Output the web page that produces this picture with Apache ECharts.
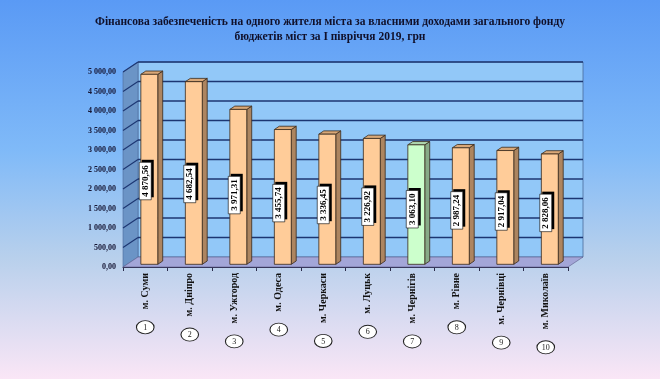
<!DOCTYPE html>
<html>
<head>
<meta charset="utf-8">
<script src="https://cdn.jsdelivr.net/npm/echarts@6/dist/echarts.min.js"></script>
<style>html,body{margin:0;padding:0;}#c{width:660px;height:379px;}</style>
</head>
<body>
<div id="c"></div>
<script>
var titleLines = ['Фінансова забезпеченість на одного жителя міста за власними доходами загального фонду', 'бюджетів міст за І півріччя 2019, грн'];
var categories = ['м. Суми', 'м. Дніпро', 'м. Ужгород', 'м. Одеса', 'м. Черкаси', 'м. Луцьк', 'м. Чернігів', 'м. Рівне', 'м. Чернівці', 'м. Миколаїв'];
var values = [4870.56, 4682.54, 3971.31, 3455.74, 3336.45, 3226.92, 3063.10, 2987.24, 2917.04, 2828.06];
var ranks = [1, 2, 3, 4, 5, 6, 7, 8, 9, 10];
var highlightIndex = 6;
var yMin = 0, yMax = 5000, yStep = 500;

var SERIF = "'Liberation Serif','DejaVu Serif',serif";
var DX = 15, DY = -10;      // wall depth
var F0 = 0.27, F1 = 0.6;    // bar depth span
var GRID_C = '#1c3672';

function fmt(v) {
  var s = v.toFixed(2).split('.');
  return s[0].replace(/\B(?=(\d{3})+(?!\d))/g, ' ') + ',' + s[1];
}
var mctx = document.createElement('canvas').getContext('2d');
function tw(text, font) { mctx.font = font; return mctx.measureText(text).width; }

var chart = echarts.init(document.getElementById('c'), null, {renderer: 'canvas'});

function renderWalls(params, api) {
  var cs = params.coordSys;
  var x0 = cs.x, x1 = cs.x + cs.width;
  var yb = api.coord([0, yMin])[1];
  var yt = api.coord([0, yMax])[1];
  var ch = [];
  ch.push({type: 'rect', shape: {x: x0 + DX, y: yt + DY, width: x1 - x0, height: yb - yt},
    style: {fill: '#92c8f8', stroke: '#4a6a9a', lineWidth: 0.8}});
  ch.push({type: 'polygon', shape: {points: [[x0, yt], [x0 + DX, yt + DY], [x0 + DX, yb + DY], [x0, yb]]},
    style: {fill: '#6b94c6', stroke: '#4a6a9a', lineWidth: 0.6}});
  for (var t = yMin + yStep; t <= yMax; t += yStep) {
    var y = api.coord([0, t])[1];
    ch.push({type: 'line', shape: {x1: x0 + DX, y1: y + DY, x2: x1 + DX, y2: y + DY}, style: {stroke: GRID_C, lineWidth: 1.4}});
    ch.push({type: 'line', shape: {x1: x0, y1: y, x2: x0 + DX, y2: y + DY}, style: {stroke: GRID_C, lineWidth: 1.1}});
  }
  ch.push({type: 'polygon', shape: {points: [[x0, yb], [x1, yb], [x1 + DX, yb + DY], [x0 + DX, yb + DY]]},
    style: {fill: '#a3a6d8', stroke: '#5a5a8a', lineWidth: 0.6}});
  return {type: 'group', children: ch};
}

function renderBar(params, api) {
  var i = api.value(0), v = api.value(1);
  var c0 = api.coord([i, yMin]), c1 = api.coord([i, v]);
  var w = api.size([1, 0])[0] * 0.38;
  var hl = i === highlightIndex;
  var front = hl ? '#ccffcc' : '#ffcc99';
  var top = hl ? '#aed6ae' : '#d9a878';
  var side = hl ? '#87aa87' : '#ad8560';
  var fx = c0[0] - w / 2 + F0 * DX;
  var fyb = c0[1] + F0 * DY, fyt = c1[1] + F0 * DY;
  var ddx = (F1 - F0) * DX, ddy = (F1 - F0) * DY;
  var st = {stroke: '#3a2a1a', lineWidth: 0.8};
  var ch = [];
  ch.push({type: 'polygon', shape: {points: [[fx + w, fyt], [fx + w + ddx, fyt + ddy], [fx + w + ddx, fyb + ddy], [fx + w, fyb]]},
    style: Object.assign({fill: side}, st)});
  ch.push({type: 'polygon', shape: {points: [[fx, fyt], [fx + ddx, fyt + ddy], [fx + w + ddx, fyt + ddy], [fx + w, fyt]]},
    style: Object.assign({fill: top}, st)});
  ch.push({type: 'rect', shape: {x: fx, y: fyt, width: w, height: fyb - fyt}, style: Object.assign({fill: front}, st)});
  var txt = fmt(v);
  var font = 'bold 9px ' + SERIF;
  var lh = tw(txt, font) + 6, lw = 12;
  var ly = api.coord([i, v * 0.4 + 256])[1];
  var lx = c0[0];
  ch.push({type: 'rect', shape: {x: lx - lw / 2 + 2.5, y: ly - lh / 2 - 2.5, width: lw, height: lh}, style: {fill: '#000'}});
  ch.push({type: 'rect', shape: {x: lx - lw / 2, y: ly - lh / 2, width: lw, height: lh}, style: {fill: '#fff', stroke: '#000', lineWidth: 0.6}});
  ch.push({type: 'text', x: lx, y: ly, rotation: Math.PI / 2,
    style: {text: txt, font: font, fill: '#000', align: 'center', verticalAlign: 'middle'}});
  return {type: 'group', children: ch};
}

function renderRank(params, api) {
  var i = api.value(0);
  var c0 = api.coord([i, yMin]);
  var labelLen = tw(categories[i], 'bold 10px ' + SERIF);
  var cy = c0[1] + 6 + labelLen + 18;
  return {type: 'group', children: [
    {type: 'circle', x: c0[0], y: cy, scaleX: 1.1, scaleY: 0.82, shape: {cx: 0, cy: 0, r: 8},
      style: {fill: '#fff', stroke: '#222', lineWidth: 1}},
    {type: 'text', x: c0[0], y: cy + 0.5, style: {text: String(ranks[i]), font: '8px ' + SERIF, fill: '#222', align: 'center', verticalAlign: 'middle'}}
  ]};
}

var option = {
  backgroundColor: new echarts.graphic.LinearGradient(0, 0, 0, 1, [
    {offset: 0, color: '#5a9af5'}, {offset: 0.4, color: '#80baf8'},
    {offset: 0.68, color: '#b8d0ec'}, {offset: 1, color: '#fae6f6'}]),
  animation: false,
  title: {
    text: titleLines.join('\n'), left: 'center', top: 10,
    textStyle: {fontFamily: SERIF, fontWeight: 'bold', fontSize: 11.5, lineHeight: 15, color: '#10102a'}
  },
  grid: {left: 123, right: 92, top: 72, bottom: 112},
  xAxis: {
    type: 'category', data: categories,
    axisLine: {show: true, lineStyle: {color: '#2a2a4a', width: 1}},
    axisTick: {show: true, length: 4, lineStyle: {color: '#2a2a4a'}},
    axisLabel: {rotate: 90, margin: 6, fontFamily: SERIF, fontWeight: 'bold', fontSize: 10, color: '#111'}
  },
  yAxis: {
    type: 'value', min: yMin, max: yMax, interval: yStep,
    axisLine: {show: false}, axisTick: {show: false}, splitLine: {show: false},
    axisLabel: {margin: 7, fontFamily: SERIF, fontWeight: 'bold', fontSize: 8, color: '#141432', formatter: function (v) { return fmt(v); }}
  },
  series: [
    {type: 'custom', renderItem: renderWalls, data: [[0, 0]], silent: true, z: 1},
    {type: 'custom', renderItem: renderBar, data: values.map(function (v, i) { return [i, v]; }), z: 2},
    {type: 'custom', renderItem: renderRank, data: ranks.map(function (r, i) { return [i, 0]; }), z: 3}
  ]
};
chart.setOption(option);
</script>
</body>
</html>
